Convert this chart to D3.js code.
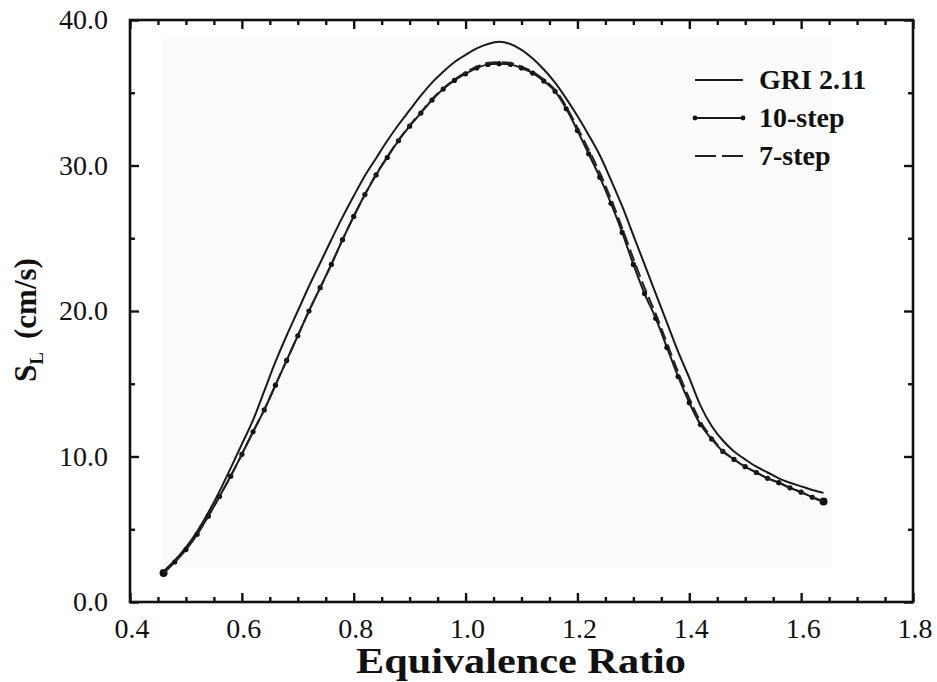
<!DOCTYPE html>
<html>
<head>
<meta charset="utf-8">
<script src="https://cdn.jsdelivr.net/npm/d3@7/dist/d3.min.js"></script>
<style>
  body { margin: 0; background: #fff; }
  svg text { font-family: 'Liberation Serif', 'Times New Roman', serif; fill: #111; }
</style>
</head>
<body>
<div id="chart"></div>
<script>
// equivalence ratio sampled every 0.02
const phi = d3.range(0, 60).map(i => +(0.46 + i * 0.02).toFixed(2));

const gri = [
  2.1, 2.85, 3.75, 4.85, 6.15, 7.6, 9.2, 10.85, 12.5, 14.5,
  16.5, 18.3, 20.0, 21.7, 23.3, 24.9, 26.45, 27.9, 29.3, 30.5,
  31.7, 32.8, 33.8, 34.8, 35.7, 36.45, 37.1, 37.6, 38.05, 38.35,
  38.5, 38.35, 37.95, 37.35, 36.6, 35.7, 34.6, 33.4, 32.1, 30.7,
  29.0, 27.2, 25.2, 23.2, 21.2, 19.2, 17.2, 15.4, 13.5, 12.1,
  11.1, 10.35, 9.8, 9.3, 8.9, 8.5, 8.2, 7.95, 7.7, 7.5,
];

const step10 = [
  2.0, 2.75, 3.6, 4.65, 5.9, 7.25, 8.65, 10.15, 11.7, 13.2,
  14.9, 16.6, 18.3, 20.0, 21.6, 23.2, 24.9, 26.5, 28.0, 29.35,
  30.55, 31.7, 32.7, 33.6, 34.5, 35.25, 35.85, 36.3, 36.7, 36.95,
  37.0, 36.95, 36.7, 36.35, 35.8, 35.1, 33.9, 32.4, 30.8, 29.2,
  27.4, 25.4, 23.2, 21.2, 19.5, 17.5, 15.5, 13.7, 12.2, 11.2,
  10.35, 9.8, 9.3, 8.9, 8.5, 8.2, 7.85, 7.55, 7.2, 6.9,
];

const step7 = [
  2.0, 2.75, 3.6, 4.65, 5.9, 7.25, 8.65, 10.15, 11.7, 13.2,
  14.9, 16.6, 18.3, 20.0, 21.6, 23.2, 24.9, 26.5, 28.0, 29.4,
  30.6, 31.75, 32.75, 33.65, 34.55, 35.3, 35.9, 36.4, 36.8, 37.05,
  37.1, 37.05, 36.8, 36.45, 35.9, 35.2, 34.05, 32.6, 31.1, 29.5,
  27.7, 25.7, 23.6, 21.6, 19.8, 17.8, 15.8, 14.0, 12.4, 11.3,
  10.4, 9.8, 9.3, 8.9, 8.5, 8.2, 7.85, 7.55, 7.2, 6.9,
];

const xTicks = [0.4, 0.6, 0.8, 1.0, 1.2, 1.4, 1.6, 1.8];
const yTicks = [0, 10, 20, 30, 40];
const legendLabels = ['GRI 2.11', '10-step', '7-step'];

const width = 937;
const height = 682;
const margin = { top: 20, right: 24, bottom: 80, left: 130 };

const svg = d3.select('#chart')
  .append('svg')
  .attr('width', width)
  .attr('height', height);

const x = d3.scaleLinear().domain([0.4, 1.8]).range([margin.left, width - margin.right]);
const y = d3.scaleLinear().domain([0, 40]).range([height - margin.bottom, margin.top]);

// faint grey of the scanned page behind the curves
svg.append('rect')
  .attr('x', x(0.457))
  .attr('y', y(38.8))
  .attr('width', x(1.654) - x(0.457))
  .attr('height', y(2.4) - y(38.8))
  .style('fill', '#fbfbfb');

// frame ticks on all four sides, pointing inward
const xMinor = d3.range(0.4, 1.8001, 0.05).map(v => +v.toFixed(2));
const yMinor = d3.range(0, 40.001, 5);

const addAxis = (axis, transform) => {
  const g = svg.append('g').attr('transform', transform).call(axis);
  g.select('.domain').remove();
  g.selectAll('line').style('stroke', '#111').style('stroke-width', 2.4);
  return g;
};

const isMajor = (v, step) => Math.abs(v / step - Math.round(v / step)) < 1e-6;

addAxis(d3.axisBottom(x).tickValues(xMinor).tickFormat('')
  .tickSize(0), `translate(0,${y(0)})`)
  .selectAll('line').attr('y2', d => (isMajor(d, 0.2) ? -9 : -5));
addAxis(d3.axisTop(x).tickValues(xMinor).tickFormat('')
  .tickSize(0), `translate(0,${y(40)})`)
  .selectAll('line').attr('y2', d => (isMajor(d, 0.2) ? 9 : 5));
addAxis(d3.axisLeft(y).tickValues(yMinor).tickFormat('')
  .tickSize(0), `translate(${x(0.4)},0)`)
  .selectAll('line').attr('x2', d => (isMajor(d, 10) ? 9 : 5));
addAxis(d3.axisRight(y).tickValues(yMinor).tickFormat('')
  .tickSize(0), `translate(${x(1.8)},0)`)
  .selectAll('line').attr('x2', d => (isMajor(d, 10) ? -9 : -5));

svg.append('rect')
  .attr('x', x(0.4))
  .attr('y', y(40))
  .attr('width', x(1.8) - x(0.4))
  .attr('height', y(0) - y(40))
  .style('fill', 'none')
  .style('stroke', '#111')
  .style('stroke-width', 2.6);

// tick labels
svg.append('g').selectAll('text')
  .data(xTicks)
  .enter().append('text')
  .attr('x', d => x(d) + 2)
  .attr('y', y(0) + 36)
  .attr('text-anchor', 'middle')
  .style('font-size', '28px')
  .text(d => d.toFixed(1));

svg.append('g').selectAll('text')
  .data(yTicks)
  .enter().append('text')
  .attr('x', x(0.4) - 22)
  .attr('y', d => y(d) + 9)
  .attr('text-anchor', 'end')
  .style('font-size', '28px')
  .text(d => d.toFixed(1));

// axis titles
svg.append('text')
  .attr('x', 356)
  .attr('y', 673)
  .attr('textLength', 330)
  .attr('lengthAdjust', 'spacingAndGlyphs')
  .style('font-size', '35px')
  .style('font-weight', 'bold')
  .text('Equivalence Ratio');

const yTitle = svg.append('text')
  .attr('transform', `translate(36,${y(20) + 9}) rotate(-90)`)
  .attr('text-anchor', 'middle')
  .style('font-size', '31px')
  .style('font-weight', 'bold');
yTitle.append('tspan').text('S');
yTitle.append('tspan').attr('dy', 7).style('font-size', '19px').text('L');
yTitle.append('tspan').attr('dy', -7).attr('dx', 13).text('(cm/s)');

// curves
const line = d3.line()
  .x((d, i) => x(phi[i]))
  .y(d => y(d))
  .curve(d3.curveCatmullRom.alpha(0.5));

const plot = svg.append('g');

plot.append('path')
  .datum(gri)
  .attr('d', line)
  .style('fill', 'none')
  .style('stroke', '#1a1a1a')
  .style('stroke-width', 2);

plot.append('path')
  .datum(step10)
  .attr('d', line)
  .style('fill', 'none')
  .style('stroke', '#1a1a1a')
  .style('stroke-width', 2);

plot.selectAll('.marker')
  .data(step10)
  .enter().append('circle')
  .attr('class', 'marker')
  .attr('cx', (d, i) => x(phi[i]))
  .attr('cy', d => y(d))
  .attr('r', (d, i) => ((i === 0 || i === step10.length - 1) ? 4 : 2.6))
  .style('fill', '#111');

plot.append('path')
  .datum(step7)
  .attr('d', line)
  .style('fill', 'none')
  .style('stroke', '#222')
  .style('stroke-width', 2)
  .style('stroke-dasharray', '12,5');

// legend
const legend = svg.append('g').attr('transform', 'translate(695,80)');
const rowGap = 38;

legend.selectAll('text')
  .data(legendLabels)
  .enter().append('text')
  .attr('x', 64)
  .attr('y', (d, i) => i * rowGap + 9)
  .style('font-size', '28px')
  .style('font-weight', 'bold')
  .text(d => d);

legend.append('line')
  .attr('x1', 0).attr('x2', 48)
  .attr('y1', 0).attr('y2', 0)
  .style('stroke', '#1a1a1a').style('stroke-width', 2);

legend.append('line')
  .attr('x1', 0).attr('x2', 48)
  .attr('y1', rowGap).attr('y2', rowGap)
  .style('stroke', '#1a1a1a').style('stroke-width', 2);

legend.selectAll('.legend-dot')
  .data([0, 48])
  .enter().append('circle')
  .attr('class', 'legend-dot')
  .attr('cx', d => d)
  .attr('cy', rowGap)
  .attr('r', 2.4)
  .style('fill', '#111');

legend.append('line')
  .attr('x1', 0).attr('x2', 48)
  .attr('y1', rowGap * 2).attr('y2', rowGap * 2)
  .style('stroke', '#222').style('stroke-width', 2)
  .style('stroke-dasharray', '21,6');
</script>
</body>
</html>
